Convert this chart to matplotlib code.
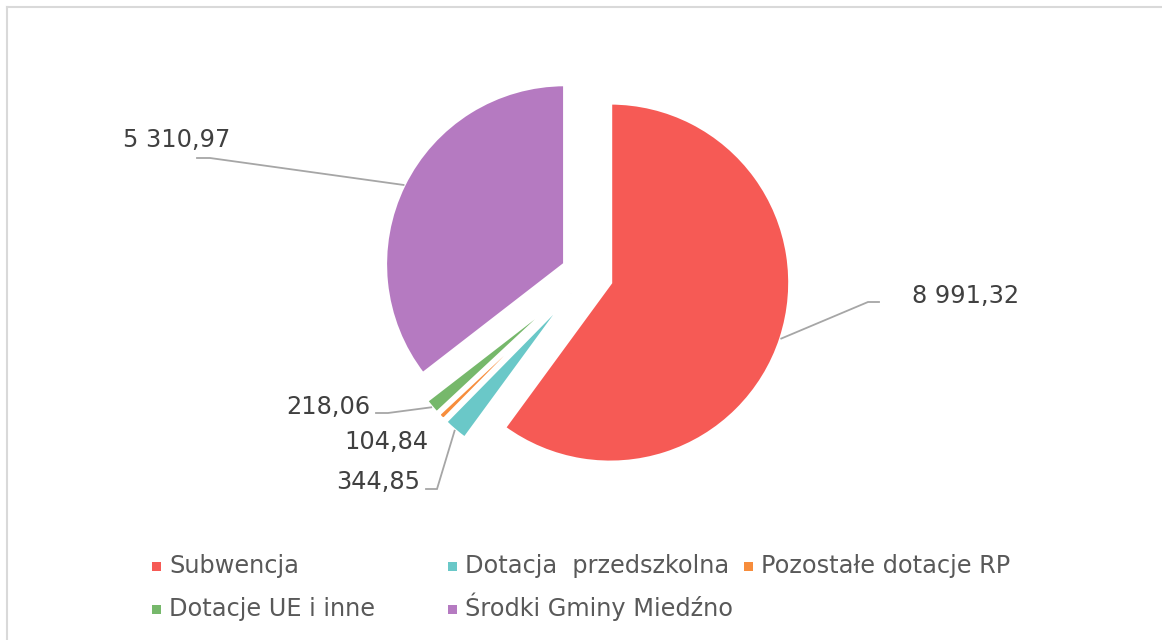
import numpy as np
import matplotlib
matplotlib.use('Agg')
import matplotlib.pyplot as plt
from matplotlib.patches import Rectangle
from matplotlib.lines import Line2D

categories = ['Subwencja', 'Dotacja  przedszkolna', 'Pozostałe dotacje RP',
              'Dotacje UE i inne', 'Środki Gminy Miedźno']
values = [8991.32, 344.85, 104.84, 218.06, 5310.97]
colors = ['#F65A55', '#6AC8C8', '#F78D3C', '#76B86B', '#B57AC1']

W, H = 1162, 640
CX, CY, R = 587, 275, 180  # pie centre / radius in pixels


def fmt(v):
    # polish style: space thousands, comma decimals
    s = f'{v:,.2f}'
    return s.replace(',', ' ').replace('.', ',')


def px2data(px, py):
    return (px - CX) / R, (CY - py) / R


# label layout in pixels: text anchor (x, baseline), ha, elbow, line end
label_layout = [
    ((912, 303), 'left', (868, 302), (879, 302)),
    ((420, 489), 'right', (437, 489), (426, 489)),
    ((428, 449), 'right', None, None),
    ((370, 414), 'right', (388, 413), (376, 413)),
    ((230, 147), 'right', (210, 158), (197, 158)),
]

fig = plt.figure(figsize=(W / 100, H / 100), dpi=100)
ax = fig.add_axes([0, 0, 1, 1])

wedges, _ = ax.pie(values, colors=colors, startangle=90, counterclock=False,
                   explode=[0.1356] * len(values), radius=1,
                   wedgeprops=dict(edgecolor='white', linewidth=2.9))
ax.set_xlim(px2data(0, 0)[0], px2data(W, 0)[0])
ax.set_ylim(px2data(0, H)[1], px2data(0, 0)[1])
ax.set_aspect('equal')
ax.axis('off')

for w, v, (txt, ha, elbow, end) in zip(wedges, values, label_layout):
    tx, ty = px2data(*txt)
    ax.text(tx, ty, fmt(v), ha=ha, va='baseline', fontsize=17.3,
            color='#404040', family='DejaVu Sans')
    if elbow is None:
        continue
    mid = np.deg2rad((w.theta1 + w.theta2) / 2)
    sx = w.center[0] + w.r * np.cos(mid)
    sy = w.center[1] + w.r * np.sin(mid)
    ex, ey = px2data(*elbow)
    fx, fy = px2data(*end)
    ax.plot([sx, ex, fx], [sy, ey, fy], color='#A6A6A6', lw=1.3,
            solid_joinstyle='miter')

# legend, excel style with equal column widths
leg_cols = [156.5, 452.5, 748.5]
leg_rows = [573, 616]
for i, (cat, col) in enumerate(zip(categories, colors)):
    mx = leg_cols[i % 3]
    base = leg_rows[i // 3]
    my = base - 7
    fig.patches.append(Rectangle(((mx - 4.5) / W, 1 - (my + 4.5) / H), 9 / W, 9 / H,
                                 transform=fig.transFigure, facecolor=col,
                                 edgecolor='none'))
    fig.text((mx + 12.5) / W, 1 - base / H, cat, ha='left', va='baseline',
             fontsize=17.3, color='#595959', family='DejaVu Sans')

# chart border (left and top visible)
fig.lines.append(Line2D([7 / W, 7 / W], [0, 1 - 7 / H], transform=fig.transFigure,
                        color='#D9D9D9', lw=1.5))
fig.lines.append(Line2D([7 / W, 1], [1 - 7 / H, 1 - 7 / H], transform=fig.transFigure,
                        color='#D9D9D9', lw=1.5))

fig.savefig('out.png', dpi=100, facecolor='white')
